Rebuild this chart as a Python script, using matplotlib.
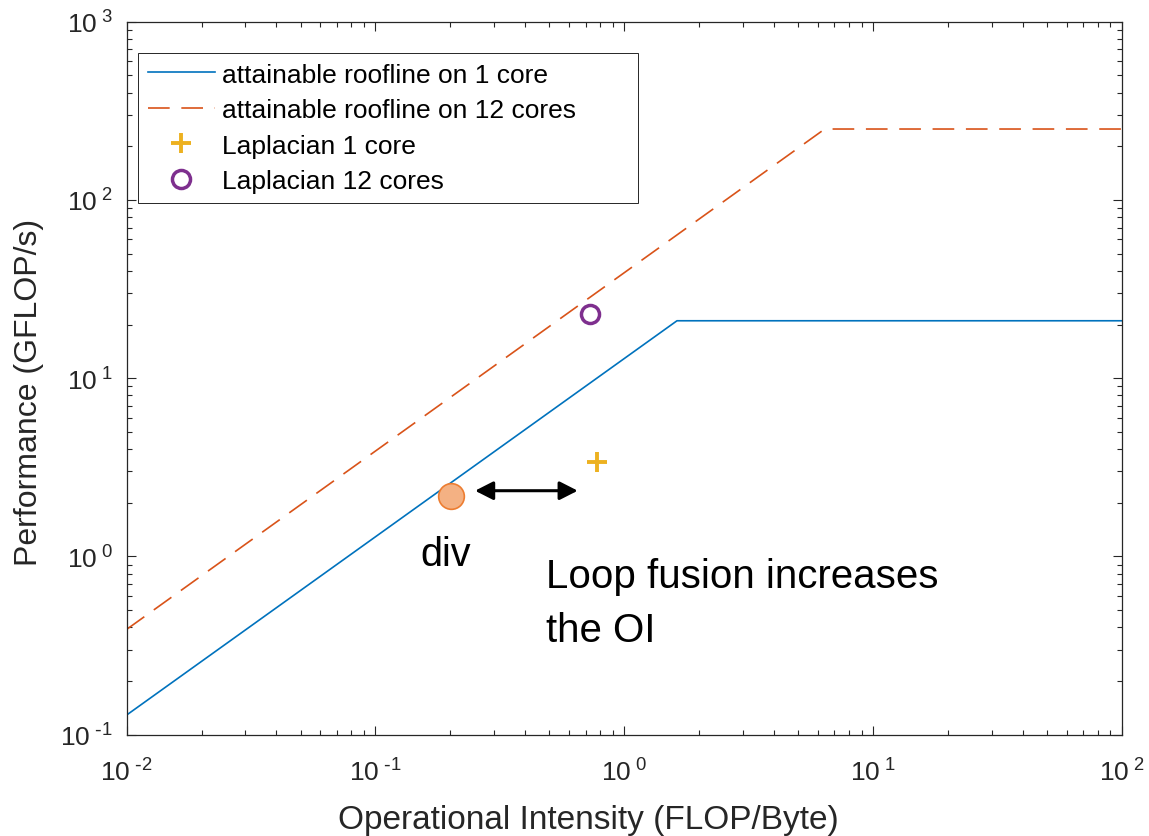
import math
import matplotlib
matplotlib.use("Agg")
import matplotlib.pyplot as plt
from matplotlib.ticker import LogLocator, FuncFormatter, NullFormatter

plt.rcParams['font.family'] = ['Liberation Sans', 'DejaVu Sans']
plt.rcParams['mathtext.default'] = 'regular'

# ---- data ----
oi_roof_1core = [0.01, 1.63, 100.0]
perf_roof_1core = [0.129, 21.0, 21.0]
oi_roof_12cores = [0.01, 6.4, 100.0]
perf_roof_12cores = [0.39, 250.0, 250.0]

lap_1core_oi = [0.775]
lap_1core_perf = [3.37]
lap_12cores_oi = [0.729]
lap_12cores_perf = [22.9]

div_oi = [0.2007]
div_perf = [2.19]

labels = ["attainable roofline on 1 core", "attainable roofline on 12 cores",
          "Laplacian 1 core", "Laplacian 12 cores"]

xlim = (1e-2, 1e2)
ylim = (1e-1, 1e3)

# ---- figure ----
fig = plt.figure(figsize=(11.49, 8.37), dpi=100)
ax = fig.add_axes([0.11027, 0.12103, 0.86597, 0.85185])

c_blue = '#0072BD'
c_orange = '#D95319'
c_yellow = '#EDB120'
c_purple = '#7E2F8E'
dark = '#262626'

ax.plot(oi_roof_1core, perf_roof_1core, color=c_blue, lw=1.2, label=labels[0])
ax.plot(oi_roof_12cores, perf_roof_12cores, color=c_orange, lw=1.2,
        dashes=(13, 7), label=labels[1])
ax.plot(lap_1core_oi, lap_1core_perf, linestyle='none', marker='+', ms=14,
        mew=2.8, color=c_yellow, label=labels[2])
ax.plot(lap_12cores_oi, lap_12cores_perf, linestyle='none', marker='o', ms=13,
        mew=2.5, mfc='none', mec=c_purple, label=labels[3])

# div point (annotation overlay)
ax.plot(div_oi, div_perf, linestyle='none', marker='o', ms=18.5,
        mfc='#F4B183', mec='#ED7D31', mew=1.2, zorder=5)

ax.set_xscale('log')
ax.set_yscale('log')
ax.set_xlim(*xlim)
ax.set_ylim(*ylim)


def fmt(v, p):
    e = round(math.log10(v))
    if e < 0:
        return r'$10^{\;\text{-}%d}$' % (-e)
    return r'$10^{\;%d}$' % e


for axis in (ax.xaxis, ax.yaxis):
    axis.set_major_locator(LogLocator(base=10, numticks=10))
    axis.set_minor_locator(LogLocator(base=10, subs=range(2, 10), numticks=20))
    axis.set_minor_formatter(NullFormatter())
    axis.set_major_formatter(FuncFormatter(fmt))

ax.tick_params(which='both', direction='in', top=True, right=True,
               colors=dark, labelcolor=dark, width=0.8)
ax.tick_params(which='major', length=6.5, labelsize=19)
ax.tick_params(which='minor', length=3.6)
ax.tick_params(axis='y', which='major', pad=10)
ax.tick_params(axis='x', which='major', pad=17)

for s in ax.spines.values():
    s.set_color(dark)
    s.set_linewidth(0.9)

ax.set_xlabel("Operational Intensity (FLOP/Byte)", fontsize=24, color=dark)
ax.set_ylabel("Performance (GFLOP/s)", fontsize=23, color=dark)
ax.xaxis.set_label_coords(0.4641, -0.097)
ax.yaxis.set_label_coords(-0.0831, 0.482)

leg = ax.legend(loc='upper left', bbox_to_anchor=(0.01166, 0.70, 0.5025, 0.2561),
                mode='expand', borderaxespad=0, fontsize=19, frameon=True,
                fancybox=False, framealpha=1, edgecolor=dark, borderpad=0.36,
                labelspacing=0.44, handlelength=2.53, handletextpad=0.3,
                numpoints=1)
leg.get_frame().set_linewidth(0.7)

# annotations
ax.annotate('', xy=(0.4533, 0.3422), xytext=(0.3501, 0.3422),
            xycoords='axes fraction', textcoords='axes fraction',
            arrowprops=dict(arrowstyle='<|-|>,head_length=0.55,head_width=0.28',
                            lw=2.2, color='black', shrinkA=0, shrinkB=0,
                            mutation_scale=20))
ax.text(0.3206, 0.2384, 'div', transform=ax.transAxes, fontsize=28.5,
        ha='center', va='baseline', color='black')
ax.text(0.4214, 0.2072, 'Loop fusion increases', transform=ax.transAxes,
        fontsize=29, ha='left', va='baseline', color='black')
ax.text(0.4214, 0.1310, 'the OI', transform=ax.transAxes,
        fontsize=29, ha='left', va='baseline', color='black')

fig.savefig('out.png', dpi=100)
